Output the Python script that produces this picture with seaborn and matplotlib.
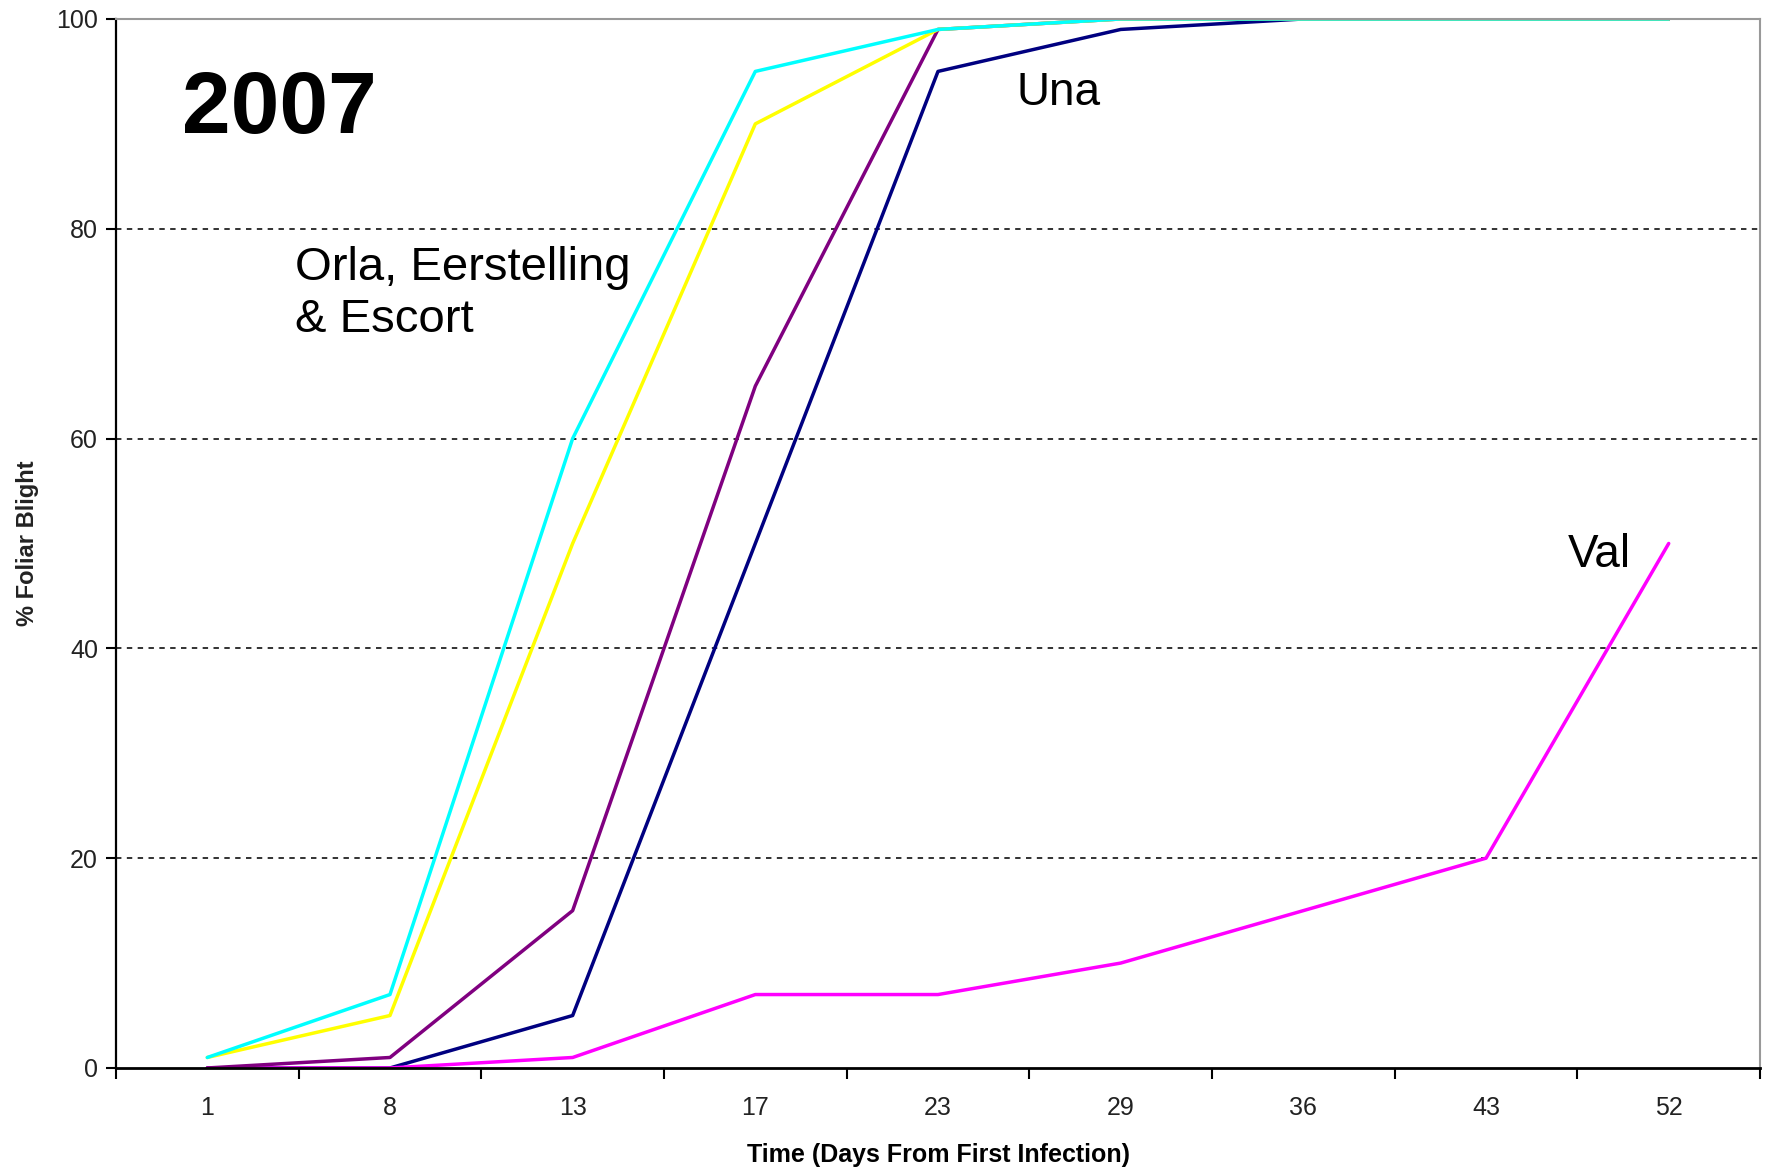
import numpy as np
import pandas as pd
import matplotlib
matplotlib.use("Agg")
import matplotlib.pyplot as plt
import seaborn as sns
from matplotlib import font_manager

# days after first infection (plotted as categories)
days = ["1", "8", "13", "17", "23", "29", "36", "43", "52"]

# % foliar blight per variety
orla = [1, 7, 60, 95, 99, 100, 100, 100, 100]
eerstelling = [1, 5, 50, 90, 99, 100, 100, 100, 100]
escort = [0, 1, 15, 65, 99, 100, 100, 100, 100]
una = [0, 0, 5, 50, 95, 99, 100, 100, 100]
val = [0, 0, 1, 7, 7, 10, 15, 20, 50]

series = {"Una": una, "Val": val, "Escort": escort,
          "Eerstelling": eerstelling, "Orla": orla}
colours = {"Una": "#000080", "Val": "#FF00FF", "Escort": "#800080",
           "Eerstelling": "#FFFF00", "Orla": "#00FFFF"}

rows = []
for name, vals in series.items():
    for i, v in enumerate(vals):
        rows.append({"variety": name, "pos": i, "blight": v})
df = pd.DataFrame(rows)

sns.set_style("white")
plt.rcParams["font.family"] = ["Liberation Sans", "DejaVu Sans"]
plt.rcParams["text.color"] = "black"

# narrow face for the small axis text if it is there
names = {f.name for f in font_manager.fontManager.ttflist}
small = "Liberation Sans Narrow" if "Liberation Sans Narrow" in names else "Liberation Sans"

fig = plt.figure(figsize=(17.73, 11.70), dpi=100)
ax = fig.add_axes([0.0654, 0.0872, 0.9273, 0.8966])

sns.lineplot(data=df, x="pos", y="blight", hue="variety",
             hue_order=list(series.keys()), palette=colours,
             linewidth=2.5, legend=False, ax=ax)

ax.set_xlim(-0.5, len(days) - 0.5)
ax.set_ylim(0, 100)

# tick marks between categories, labels at centres
ax.set_xticks(np.arange(-0.5, len(days), 1))
ax.set_xticklabels([])
ax.set_xticks(np.arange(len(days)), minor=True)
ax.set_xticklabels(days, minor=True, family=small)
ax.tick_params(axis="x", which="major", direction="out", length=8,
               width=1.5, color="black", bottom=True)
ax.tick_params(axis="x", which="minor", length=0, pad=20,
               labelsize=18, labelcolor="#222222")
ax.set_yticks([0, 20, 40, 60, 80, 100])
ax.set_yticklabels(["0", "20", "40", "60", "80", "100"], family=small)
ax.tick_params(axis="y", direction="out", length=7, width=1.5,
               color="black", left=True, labelsize=18,
               labelcolor="#222222", pad=6)

for y in [20, 40, 60, 80]:
    ax.axhline(y, color="#222222", linestyle=(0, (3, 3)), linewidth=1.3,
               zorder=0)

ax.spines["left"].set_color("black")
ax.spines["left"].set_linewidth(1.6)
ax.spines["bottom"].set_color("black")
ax.spines["bottom"].set_linewidth(2.0)
ax.spines["top"].set_color("#999999")
ax.spines["top"].set_linewidth(1.5)
ax.spines["right"].set_color("#999999")
ax.spines["right"].set_linewidth(1.5)

ax.set_xlabel("Time (Days From First Infection)", fontsize=18,
              fontweight="bold", labelpad=17, family=small, color="black")
ax.set_ylabel("% Foliar Blight", fontsize=17, fontweight="bold",
              labelpad=12, family="Liberation Sans", color="#222222")

ax.text(-0.14, 91.3, "2007", fontsize=63, fontweight="bold",
        va="center", ha="left", color="black")
ax.text(0.48, 78.4, "Orla, Eerstelling\n& Escort", fontsize=34,
        va="top", ha="left", linespacing=1.25, color="black")
ax.text(4.43, 92.9, "Una", fontsize=33, va="center", ha="left",
        color="black")
ax.text(7.45, 48.9, "Val", fontsize=33, va="center", ha="left",
        color="black")

fig.savefig("out.png", dpi=100, facecolor="white")
